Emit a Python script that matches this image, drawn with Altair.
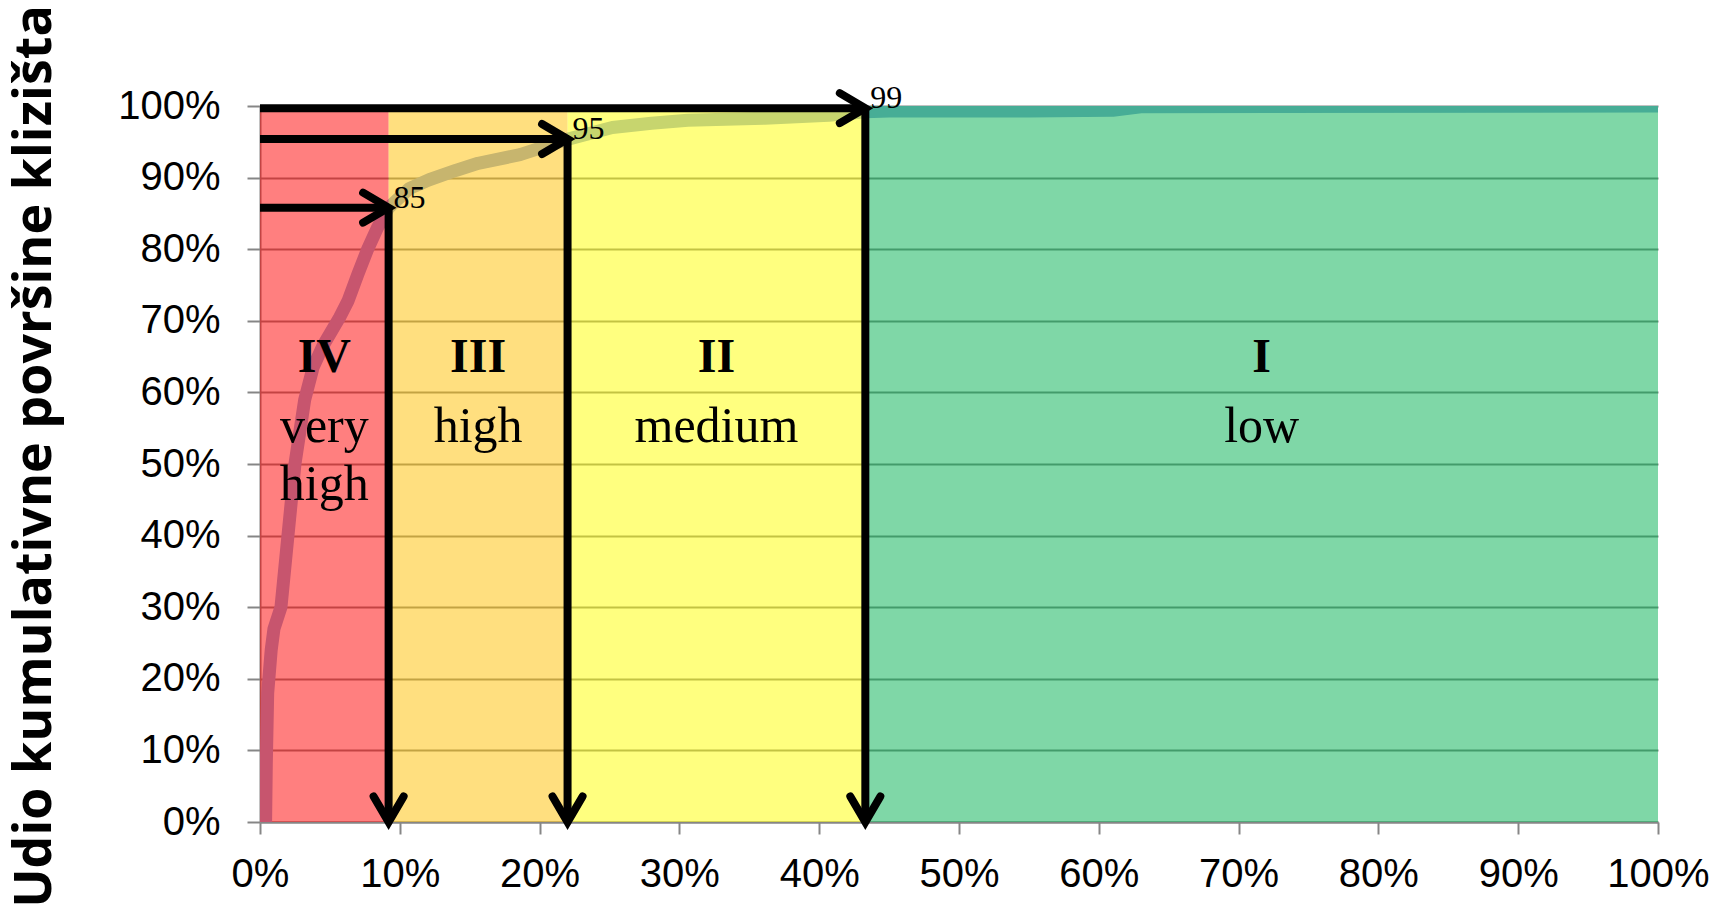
import altair as alt
import pandas as pd

# ---------------- data ----------------
zone_numeral = ["IV", "III", "II", "I"]
zone_word1 = ["very", "high", "medium", "low"]
zone_word2 = ["high", "", "", ""]
zone_start = [0.0, 9.2, 22.0, 43.3]
zone_end = [9.2, 22.0, 43.3, 100.0]
zone_color = ["#FF0000", "#FFC000", "#FFFF00", "#00B050"]

curve_x = [0.4, 0.45, 0.55, 0.8, 1.0, 1.5, 2.0, 2.5, 3.2, 3.8, 4.5, 5.7, 6.3, 7.0,
           7.7, 8.4, 9.2, 10.7, 12.1, 14.0, 15.6, 18.6, 21.9, 25.2, 28.0, 30.6,
           36.1, 40.7, 43.3, 45.0, 55.0, 61.0, 63.0, 100.0]
curve_y = [0.0, 8.0, 18.0, 24.0, 27.0, 30.0, 40.0, 50.0, 59.0, 63.5, 66.5, 70.5, 72.8, 76.5,
           80.0, 83.0, 85.8, 88.5, 89.7, 91.0, 92.0, 93.2, 95.3, 97.0, 97.6, 98.0,
           98.3, 98.7, 99.2, 99.3, 99.3, 99.4, 99.9, 100.0]

cut_x = [9.2, 22.0, 43.3]
cut_y = [85.8, 95.4, 99.7]
cut_label = ["85", "95", "99"]

tick_values = [0, 10, 20, 30, 40, 50, 60, 70, 80, 90, 100]

y_title = "Udio kumulativne površine klizišta"

# ---------------- tables ----------------
zones = pd.DataFrame({
    "numeral": zone_numeral, "w1": zone_word1, "w2": zone_word2,
    "start": zone_start, "end": zone_end, "color": zone_color,
})
zones["mid"] = (zones["start"] + zones["end"]) / 2
curve = pd.DataFrame({"x": curve_x, "y": curve_y})
cuts = pd.DataFrame({"x": cut_x, "y": cut_y, "label": cut_label})

xs = alt.Scale(domain=[0, 100], nice=False, zero=False)
ys = alt.Scale(domain=[0, 100], nice=False, zero=False)

GRAY = "#868686"

x_axis = alt.Axis(
    values=tick_values, labelExpr="datum.value + '%'", title=None,
    labelFont="Liberation Sans", labelFontSize=40, labelColor="black",
    labelPadding=20, tickSize=12, tickColor=GRAY, tickWidth=2,
    domainColor=GRAY, domainWidth=2, grid=False, labelFlush=False,
    labelOverlap=False,
)
y_axis = alt.Axis(
    values=tick_values, labelExpr="datum.value + '%'",
    labelFont="Liberation Sans", labelFontSize=40, labelColor="black",
    labelPadding=27, tickSize=13, tickColor=GRAY, tickWidth=2,
    domainColor=GRAY, domainWidth=2, grid=True, gridColor=GRAY, gridWidth=2,
    labelOverlap=False,
    title=y_title, titleFont="Open Sans", titleFontSize=52, titleFontWeight="bold",
    titleColor="black", titleAngle=270, titleX=-226, titleY=350,
    titleBaseline="middle", titleAlign="center",
)


def X(field):
    return alt.X(field, type="quantitative", scale=xs, axis=x_axis)


def Y(field):
    return alt.Y(field, type="quantitative", scale=ys, axis=y_axis)


line = alt.Chart(curve).mark_line(
    color="#8FAADC", strokeWidth=13, clip=True, strokeJoin="round"
).encode(x=X("x"), y=Y("y"))

rects = alt.Chart(zones).transform_calculate(lo="0", hi="100").mark_rect(
    opacity=0.5
).encode(
    x=X("start"), x2="end:Q",
    y=Y("lo"), y2="hi:Q",
    color=alt.Color("color:N", scale=None),
)

base_cuts = alt.Chart(cuts).transform_calculate(zero="0")

h_shaft = base_cuts.mark_rule(color="black", strokeWidth=8).encode(
    x=X("zero"), x2="x:Q", y=Y("y"),
)
v_shaft = base_cuts.mark_rule(color="black", strokeWidth=8).encode(
    x=X("x"), y=Y("y"), y2="zero:Q",
)
r_head = base_cuts.mark_point(
    shape="M-1.7,-1L0,0L-1.7,1", filled=False, size=900, color="black",
    strokeWidth=8, opacity=1, strokeCap="round", strokeJoin="miter",
).encode(x=X("x"), y=Y("y"))
d_head = base_cuts.mark_point(
    shape="M-1,-1.7L0,0L1,-1.7", filled=False, size=900, color="black",
    strokeWidth=8, opacity=1, strokeCap="round", strokeJoin="miter",
).encode(x=X("x"), y=Y("zero"))
cut_text = base_cuts.mark_text(
    font="Liberation Serif", fontSize=32, color="black", align="left",
    baseline="alphabetic", dx=5, dy=0,
).encode(x=X("x"), y=Y("y"), text="label:N")

base_zone = alt.Chart(zones).transform_calculate(yn="62.8", y1="53.1", y2="45.0")
numerals = base_zone.mark_text(
    font="Liberation Serif", fontSize=48, fontWeight="bold", color="black",
    align="center", baseline="alphabetic",
).encode(x=X("mid"), y=Y("yn"), text="numeral:N")
word1 = base_zone.mark_text(
    font="Liberation Serif", fontSize=50, color="black",
    align="center", baseline="alphabetic",
).encode(x=X("mid"), y=Y("y1"), text="w1:N")
word2 = base_zone.transform_filter("datum.w2 != ''").mark_text(
    font="Liberation Serif", fontSize=50, color="black",
    align="center", baseline="alphabetic",
).encode(x=X("mid"), y=Y("y2"), text="w2:N")

chart = alt.layer(
    line, rects, h_shaft, v_shaft, r_head, d_head, cut_text, numerals, word1, word2
).properties(
    width=1398, height=716,
    padding={"left": 252, "top": 98, "right": 53, "bottom": 83},
    autosize=alt.AutoSizeParams(type="none"),
    background="white",
).configure_view(stroke=None)

chart.save("out.html", embed_options={"renderer": "svg", "actions": False})
